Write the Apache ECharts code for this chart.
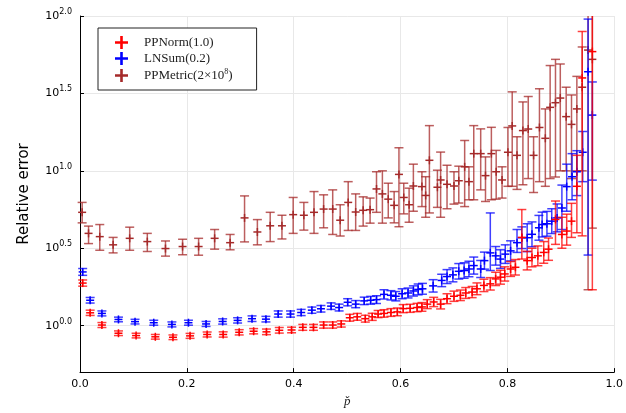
<!DOCTYPE html>
<html>
<head>
<meta charset="utf-8">
<script src="https://cdn.jsdelivr.net/npm/echarts@6/dist/echarts.min.js"></script>
<style>
  html, body { margin: 0; padding: 0; background: #fff; }
  #chart { width: 626px; height: 413px; }
</style>
</head>
<body>
<div id="chart"></div>
<script>
// values are log10 of the relative error (the y axis is drawn as 10^x)
var Y_MIN = -0.3, Y_MAX = 2.0;

// PPNorm(1.0)
var normP = [0.005, 0.019, 0.041, 0.072, 0.105, 0.141, 0.174, 0.206, 0.238, 0.268, 0.298, 0.325, 0.349,
  0.373, 0.396, 0.417, 0.437, 0.456, 0.473, 0.489, 0.505, 0.519, 0.534, 0.547, 0.558, 0.569, 0.582,
  0.594, 0.605, 0.618, 0.631, 0.640, 0.650, 0.662, 0.675, 0.687, 0.700, 0.712, 0.722, 0.734, 0.743,
  0.756, 0.768, 0.778, 0.787, 0.795, 0.806, 0.815, 0.827, 0.837, 0.846, 0.857, 0.868, 0.877, 0.890,
  0.902, 0.911, 0.920, 0.930, 0.940, 0.959];
var normMid = [0.275, 0.083, 0.004, -0.049, -0.064, -0.072, -0.075, -0.066, -0.057, -0.057, -0.043, -0.036, -0.040,
  -0.030, -0.028, -0.011, -0.011, 0.004, 0.004, 0.011, 0.051, 0.057, 0.045, 0.057, 0.075, 0.079, 0.085,
  0.089, 0.110, 0.112, 0.117, 0.121, 0.139, 0.153, 0.139, 0.174, 0.190, 0.196, 0.211, 0.217, 0.238,
  0.260, 0.270, 0.302, 0.313, 0.334, 0.366, 0.377, 0.57, 0.42, 0.44, 0.451, 0.473, 0.494, 0.686,
  0.589, 0.611, 0.675, 0.9, 1.6, 1.77];
var normLo = [0.255, 0.066, -0.012, -0.064, -0.079, -0.087, -0.090, -0.082, -0.073, -0.074, -0.060, -0.053, -0.058,
  -0.048, -0.046, -0.030, -0.030, -0.016, -0.016, -0.009, 0.029, 0.035, 0.023, 0.034, 0.052, 0.055, 0.060,
  0.064, 0.084, 0.086, 0.090, 0.093, 0.110, 0.123, 0.108, 0.142, 0.157, 0.162, 0.176, 0.181, 0.200,
  0.220, 0.230, 0.259, 0.268, 0.288, 0.318, 0.327, 0.43, 0.36, 0.38, 0.387, 0.403, 0.422, 0.525,
  0.50, 0.52, 0.57, 0.6, 0.58, 0.232];
var normHi = [0.295, 0.100, 0.020, -0.034, -0.049, -0.057, -0.060, -0.050, -0.041, -0.040, -0.026, -0.019, -0.022,
  -0.012, -0.010, 0.008, 0.008, 0.024, 0.024, 0.031, 0.073, 0.079, 0.067, 0.080, 0.098, 0.103, 0.110,
  0.114, 0.136, 0.138, 0.144, 0.149, 0.168, 0.183, 0.170, 0.206, 0.223, 0.230, 0.246, 0.253, 0.276,
  0.300, 0.310, 0.345, 0.358, 0.380, 0.414, 0.427, 0.75, 0.48, 0.50, 0.515, 0.543, 0.566, 0.805,
  0.70, 0.72, 0.79, 1.1, 1.9, 2.06];

// LNSum(0.2)
var sumP = [0.005, 0.019, 0.041, 0.072, 0.103, 0.138, 0.172, 0.203, 0.236, 0.267, 0.295, 0.322, 0.348,
  0.371, 0.394, 0.414, 0.434, 0.451, 0.470, 0.485, 0.501, 0.516, 0.532, 0.544, 0.555, 0.569, 0.582,
  0.591, 0.603, 0.614, 0.624, 0.633, 0.641, 0.661, 0.677, 0.687, 0.698, 0.709, 0.719, 0.728, 0.737,
  0.750, 0.757, 0.768, 0.778, 0.787, 0.796, 0.806, 0.818, 0.827, 0.837, 0.846, 0.859, 0.865, 0.874,
  0.883, 0.893, 0.902, 0.911, 0.921, 0.930, 0.941, 0.951, 0.959];
var sumMid = [0.347, 0.164, 0.079, 0.040, 0.026, 0.019, 0.008, 0.019, 0.011, 0.027, 0.034, 0.045, 0.042,
  0.075, 0.075, 0.085, 0.100, 0.109, 0.126, 0.117, 0.151, 0.139, 0.160, 0.164, 0.168, 0.202, 0.196,
  0.190, 0.206, 0.211, 0.224, 0.234, 0.238, 0.257, 0.292, 0.317, 0.328, 0.351, 0.356, 0.366, 0.388,
  0.366, 0.420, 0.47, 0.451, 0.430, 0.462, 0.483, 0.536, 0.568, 0.568, 0.59, 0.632, 0.653, 0.658,
  0.675, 0.696, 0.760, 0.898, 0.962, 0.994, 1.12, 1.64, 1.36];
var sumLo = [0.325, 0.146, 0.063, 0.025, 0.011, 0.003, -0.008, 0.003, -0.005, 0.010, 0.017, 0.027, 0.024,
  0.055, 0.055, 0.065, 0.080, 0.088, 0.105, 0.095, 0.128, 0.116, 0.136, 0.139, 0.143, 0.172, 0.166,
  0.160, 0.174, 0.179, 0.191, 0.199, 0.203, 0.217, 0.252, 0.272, 0.283, 0.301, 0.306, 0.316, 0.333,
  0.311, 0.365, 0.356, 0.391, 0.370, 0.402, 0.418, 0.473, 0.498, 0.478, 0.51, 0.552, 0.573, 0.578,
  0.595, 0.606, 0.621, 0.739, 0.813, 0.84, 0.93, 0.456, 0.94];
var sumHi = [0.369, 0.182, 0.095, 0.055, 0.041, 0.035, 0.024, 0.035, 0.027, 0.044, 0.051, 0.063, 0.060,
  0.095, 0.095, 0.105, 0.120, 0.130, 0.147, 0.139, 0.174, 0.162, 0.184, 0.189, 0.193, 0.232, 0.226,
  0.220, 0.238, 0.243, 0.257, 0.269, 0.273, 0.297, 0.332, 0.362, 0.373, 0.401, 0.406, 0.416, 0.443,
  0.421, 0.475, 0.728, 0.511, 0.490, 0.522, 0.548, 0.621, 0.638, 0.658, 0.67, 0.712, 0.733, 0.738,
  0.755, 0.786, 0.908, 1.043, 1.111, 1.13, 1.254, 1.98, 1.574];

// PPMetric(2x10^8)
var metricP = [0.004, 0.016, 0.037, 0.062, 0.093, 0.126, 0.160, 0.192, 0.222, 0.252, 0.281, 0.308, 0.332,
  0.356, 0.378, 0.399, 0.419, 0.438, 0.456, 0.473, 0.487, 0.502, 0.516, 0.530, 0.543, 0.555, 0.566,
  0.577, 0.588, 0.597, 0.606, 0.616, 0.624, 0.640, 0.647, 0.654, 0.669, 0.675, 0.687, 0.700, 0.709,
  0.720, 0.728, 0.737, 0.750, 0.759, 0.770, 0.779, 0.790, 0.801, 0.809, 0.818, 0.829, 0.839, 0.849,
  0.860, 0.871, 0.880, 0.890, 0.899, 0.910, 0.920, 0.930, 0.940, 0.951, 0.959];
var metricMid = [0.732, 0.596, 0.575, 0.522, 0.564, 0.543, 0.498, 0.511, 0.511, 0.564, 0.536, 0.696, 0.605,
  0.645, 0.645, 0.717, 0.713, 0.732, 0.753, 0.753, 0.681, 0.796, 0.734, 0.745, 0.749, 0.883, 0.851,
  0.817, 0.777, 0.977, 0.828, 0.781, 0.902, 0.898, 0.841, 1.068, 0.894, 0.941, 0.913, 0.902, 0.936,
  1.026, 0.930, 1.111, 1.111, 0.969, 1.111, 0.994, 0.941, 1.12, 1.29, 1.10, 1.26, 1.27, 1.10,
  1.28, 1.21, 1.41, 1.44, 1.47, 1.35, 1.30, 1.40, 1.54, 1.78, 1.72];
var metricLo = [0.664, 0.530, 0.487, 0.470, 0.487, 0.479, 0.449, 0.458, 0.455, 0.494, 0.490, 0.541, 0.522,
  0.543, 0.560, 0.596, 0.617, 0.596, 0.632, 0.589, 0.579, 0.615, 0.615, 0.643, 0.662, 0.732, 0.662,
  0.696, 0.664, 0.639, 0.722, 0.668, 0.739, 0.769, 0.700, 0.728, 0.764, 0.700, 0.755, 0.785, 0.792,
  0.769, 0.813, 0.813, 0.877, 0.802, 0.813, 0.817, 0.824, 0.90, 0.90, 0.88, 0.91, 0.95, 0.86,
  0.93, 0.90, 0.95, 0.96, 1.00, 1.00, 0.95, 1.00, 1.00, 0.232, 0.63];
var metricHi = [0.796, 0.643, 0.653, 0.570, 0.636, 0.596, 0.547, 0.558, 0.564, 0.621, 0.589, 0.838, 0.685,
  0.732, 0.713, 0.828, 0.796, 0.866, 0.845, 0.877, 0.781, 0.930, 0.851, 0.832, 0.824, 0.994, 1.0,
  0.920, 0.866, 1.149, 0.920, 0.888, 1.043, 0.994, 0.962, 1.292, 1.004, 1.121, 1.036, 0.994, 1.030,
  1.196, 1.026, 1.292, 1.271, 1.090, 1.281, 1.132, 1.026, 1.28, 1.51, 1.22, 1.445, 1.48, 1.22,
  1.53, 1.40, 1.68, 1.72, 1.69, 1.54, 1.49, 1.61, 1.80, 2.10, 2.10];

var yTicks = [0, 0.5, 1.0, 1.5, 2.0];

function pack(p, mid, lo, hi) {
  return p.map(function (x, i) { return [x, mid[i], lo[i], hi[i]]; });
}

var myChart = echarts.init(document.getElementById("chart"));

// error bar + "+" marker
function renderBar(params, api) {
  var x = api.value(0), mid = api.value(1), lo = api.value(2), hi = api.value(3);
  var color = api.visual("color");
  var top = Math.min(hi, Y_MAX), bot = Math.max(lo, Y_MIN);
  var a = api.coord([x, top]), b = api.coord([x, bot]), m = api.coord([x, mid]);
  var cap = 4.5;
  var st = { stroke: color, lineWidth: 1.5, opacity: 0.75 };
  var kids = [{ type: "line", shape: { x1: a[0], y1: a[1], x2: b[0], y2: b[1] }, style: st }];
  if (hi <= Y_MAX) kids.push({ type: "line", shape: { x1: a[0] - cap, y1: a[1], x2: a[0] + cap, y2: a[1] }, style: st });
  if (lo >= Y_MIN) kids.push({ type: "line", shape: { x1: b[0] - cap, y1: b[1], x2: b[0] + cap, y2: b[1] }, style: st });
  if (mid <= Y_MAX) {
    kids.push({ type: "line", shape: { x1: m[0] - 4, y1: m[1], x2: m[0] + 4, y2: m[1] }, style: { stroke: color, lineWidth: 1.5 } });
    kids.push({ type: "line", shape: { x1: m[0], y1: m[1] - 4, x2: m[0], y2: m[1] + 4 }, style: { stroke: color, lineWidth: 1.5 } });
  }
  return { type: "group", children: kids };
}

var plusIcon = "path://M4,0h2v4h4v2h-4v4h-2v-4h-4v-2h4z";

var option = {
  animation: false,
  grid: { left: 80, right: 10, top: 16, bottom: 37 },
  legend: {
    orient: "vertical",
    left: 98,
    top: 28,
    padding: [8, 24, 8, 17],
    itemGap: 3,
    itemWidth: 13,
    itemHeight: 13,
    borderColor: "#222",
    borderWidth: 1,
    backgroundColor: "#fff",
    textStyle: {
      fontFamily: "Liberation Serif",
      fontSize: 13,
      color: "#222",
      padding: [0, 0, 0, 11],
      rich: { sup: { fontSize: 8, padding: [0, 0, 7, 0], fontFamily: "Liberation Serif", color: "#222" } },
    },
    formatter: function (name) {
      return name.replace("10^8", "10{sup|8}");
    },
    data: [
      { name: "PPNorm(1.0)", icon: plusIcon },
      { name: "LNSum(0.2)", icon: plusIcon },
      { name: "PPMetric(2×10^8)", icon: plusIcon },
    ],
  },
  xAxis: {
    type: "value",
    min: 0,
    max: 1,
    interval: 0.2,
    name: "p\u030C",
    nameLocation: "middle",
    nameGap: 20,
    nameTextStyle: { fontFamily: "Liberation Serif", fontStyle: "italic", fontSize: 13, color: "#222" },
    axisLine: { onZero: false, lineStyle: { color: "#000", width: 1 } },
    axisTick: { inside: true, length: 4, lineStyle: { color: "#000" } },
    axisLabel: {
      color: "#000",
      fontFamily: "DejaVu Sans",
      fontSize: 11,
      margin: 7,
      formatter: function (v) { return v.toFixed(1); },
    },
    splitLine: { show: true, lineStyle: { color: "#e8e8e8", width: 1 } },
  },
  yAxis: {
    type: "value",
    min: Y_MIN,
    max: Y_MAX,
    name: "Relative error",
    nameLocation: "middle",
    nameGap: 48,
    nameTextStyle: { fontFamily: "DejaVu Sans", fontSize: 15, color: "#000" },
    axisLine: { show: true, onZero: false, lineStyle: { color: "#000", width: 1 } },
    axisTick: { show: true, inside: true, length: 4, customValues: yTicks, lineStyle: { color: "#000" } },
    axisLabel: {
      customValues: yTicks,
      color: "#000",
      fontFamily: "DejaVu Sans",
      fontSize: 11,
      margin: 8,
      formatter: function (v) { return "10{sup|" + v.toFixed(1) + "}"; },
      rich: { sup: { fontSize: 8, padding: [0, 0, 8, 0], fontFamily: "DejaVu Sans", color: "#000" } },
    },
    splitLine: { show: true, lineStyle: { color: "#e8e8e8", width: 1 } },
  },
  series: [
    { name: "PPNorm(1.0)", type: "custom", renderItem: renderBar, itemStyle: { color: "#ff0000" },
      encode: { x: 0, y: [1, 2, 3] }, data: pack(normP, normMid, normLo, normHi), z: 3 },
    { name: "LNSum(0.2)", type: "custom", renderItem: renderBar, itemStyle: { color: "#0000ff" },
      encode: { x: 0, y: [1, 2, 3] }, data: pack(sumP, sumMid, sumLo, sumHi), z: 2 },
    { name: "PPMetric(2×10^8)", type: "custom", renderItem: renderBar, itemStyle: { color: "#a52a2a" },
      encode: { x: 0, y: [1, 2, 3] }, data: pack(metricP, metricMid, metricLo, metricHi), z: 1 },
  ],
};

myChart.setOption(option);
window.addEventListener("resize", myChart.resize);
</script>
</body>
</html>
